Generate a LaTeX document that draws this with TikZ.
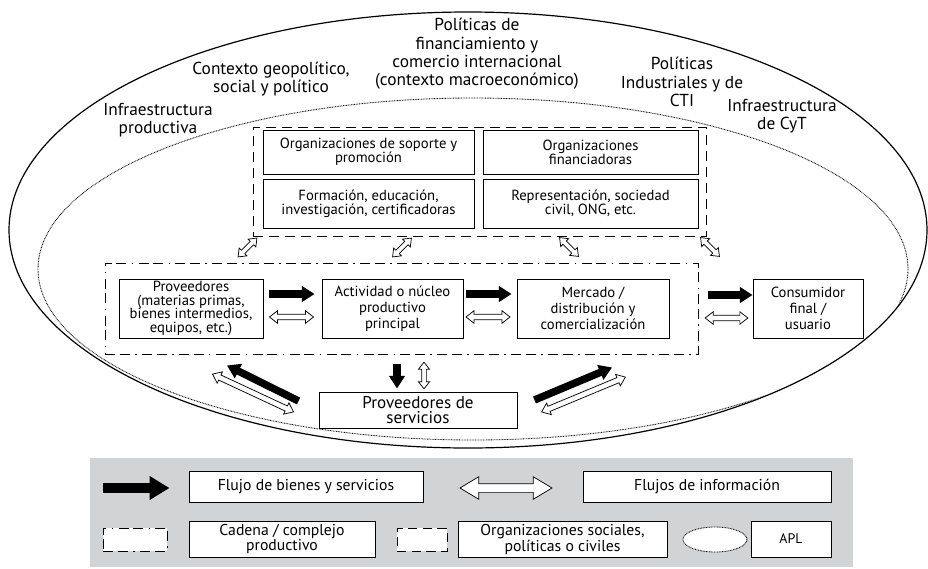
\documentclass[tikz,border=0pt]{standalone}
\usepackage{fontspec}
\setmainfont{PT Sans}
\usetikzlibrary{arrows.meta,shapes.arrows,shapes.geometric,calc}

\definecolor{legendgrey}{RGB}{209,211,212}
\newcommand\bxfont{\fontsize{11}{10.3}\selectfont}
\newcommand\chfont{\fontsize{11}{12}\selectfont}
\newcommand\lblfont{\fontsize{13}{13.8}\selectfont}
\newcommand\srvfont{\fontsize{12.8}{11.6}\selectfont}
\newcommand\lgfont{\fontsize{11.8}{10.8}\selectfont}

\begin{document}
\begin{tikzpicture}[x=0.75pt,y=-0.75pt,
  box/.style={draw, line width=0.7pt, fill=white, align=center, inner sep=1pt, font=\bxfont},
  chbox/.style={box, font=\chfont},
  lgbox/.style={box, font=\lgfont},
  lbl/.style={align=center, inner sep=0pt, font=\lblfont},
  orgframe/.style={draw, line width=0.75pt, dash pattern=on 7.5pt off 4.5pt, inner sep=0pt},
  chainframe/.style={draw, line width=0.75pt, dash pattern=on 7.5pt off 3.5pt on 7.5pt off 4pt on 1.2pt off 4pt, inner sep=0pt},
  aplline/.style={line width=0.65pt, dash pattern=on 0.6pt off 0.6pt},
  blk/.style={line width=5.6pt, -{Triangle[length=9.5pt,width=11.5pt]}},
  hollow/.style={double arrow, draw, fill=white, line width=0.55pt, inner xsep=0pt,
    inner ysep=1.8pt, double arrow head extend=2.6pt, double arrow tip angle=76,
    minimum height=#1},
  hollowsm/.style={hollow=#1, inner ysep=1.5pt, double arrow head extend=2.4pt}
]
\useasboundingbox (0,0) rectangle (928,568);

% global context and the APL boundary
\draw[line width=0.9pt] (468,230) ellipse [x radius=459, y radius=218];
\begin{scope}
  \clip (468,230) ellipse [x radius=458, y radius=217];
  \draw[aplline] (473,269) ellipse [x radius=435, y radius=171];
\end{scope}

% context labels
\node[lbl] (macro) at (477,54) {Políticas de\\financiamiento y\\comercio internacional\\(contexto macroeconómico)};
\node[lbl] (geo) at (271,79) {Contexto geopolítico,\\social y político};
\node[lbl] (ind) at (682,82) {Políticas\\Industriales y de\\CTI};
\node[lbl] (infp) at (158,120) {Infraestructura\\productiva};
\node[lbl] (infc) at (782,116) {Infraestructura\\de CyT};

% social, political and civil organisations
\node[orgframe, minimum width=339.75pt, minimum height=81.75pt] (orgs) at (479.5,181.5) {};
\node[box, minimum width=158.25pt, minimum height=33pt] (org1) at (368.5,152) {Organizaciones de soporte y\\promoción};
\node[box, minimum width=161.25pt, minimum height=33pt] (org2) at (590.5,152) {Organizaciones\\financiadoras};
\node[box, minimum width=158.25pt, minimum height=36.75pt] (org3) at (368.5,203.5) {Formación, educación,\\investigación, certificadoras};
\node[box, minimum width=161.25pt, minimum height=36.75pt] (org4) at (590.5,203.5) {Representación, sociedad\\civil, ONG, etc.};

% productive chain
\node[chainframe, minimum width=444.75pt, minimum height=68.25pt] (chain) at (401.5,308.5) {};
\node[box, minimum width=108pt, minimum height=44.25pt] (prov) at (191,308.5) {Proveedores\\(materias primas,\\bienes intermedios,\\equipos, etc.)};
\node[chbox, minimum width=105.75pt, minimum height=44.25pt] (act) at (392.5,308.5) {Actividad o núcleo\\productivo\\principal};
\node[chbox, minimum width=114pt, minimum height=44.25pt] (merc) at (593,308.5) {Mercado /\\distribución y\\comercialización};
\node[chbox, minimum width=82.5pt, minimum height=44.25pt] (cons) at (808,308.5) {Consumidor\\final /\\usuario};
\node[box, font=\srvfont, minimum width=148.5pt, minimum height=27pt] (serv) at (418,410) {Proveedores de\\servicios};

% links between organisations and the chain
\node[hollowsm=20pt, rotate=45]  (i1) at ($(orgs.south)+(-232,11)$) {};
\node[hollowsm=20pt, rotate=45]  (i2) at ($(orgs.south)+(-77.5,11)$) {};
\node[hollowsm=20pt, rotate=-45] (i3) at ($(orgs.south)+(89.5,10.5)$) {};
\node[hollowsm=20pt, rotate=-45] (i4) at ($(orgs.south)+(230.5,10.5)$) {};

% flows along the chain
\draw[blk] ($(prov.east)+(6,-14.5)$) -- ($(act.west)+(-7,-14.5)$);
\node[hollow=33pt] (f1) at ($(prov.east)!.5!(act.west)+(-1,8.5)$) {};
\draw[blk] ($(act.east)+(3,-14.5)$) -- ($(merc.west)+(-5,-14.5)$);
\node[hollow=33pt] (f2) at ($(act.east)!.5!(merc.west)+(-2,8.5)$) {};
\draw[blk] ($(chain.east)+(9,-13.5)$) -- ($(cons.west)+(0,-13.5)$);
\node[hollow=32pt] (f3) at ($(chain.east)!.5!(cons.west)+(1,9.5)$) {};

% flows with service providers
\draw[blk] ($(chain.south)+(-4.5,9)$) -- ($(serv.north)+(-21,-3)$);
\node[hollowsm=20pt, rotate=90] (f4) at ($(chain.south)!.5!(serv.north)+(14.25,2.5)$) {};
\draw[blk] ($(serv.west)+(-20,-9)$) -- ($(prov.south)+(36,27)$);
\node[hollow=67pt, rotate=-25] (f5) at ($(serv.west)+(-65.5,-17)$) {};
\draw[blk] ($(serv.east)+(17,-10)$) -- ($(merc.south)+(19,29)$);
\node[hollow=68pt, rotate=22.6] (f6) at ($(serv.east)+(66,-15.5)$) {};

% legend
\fill[legendgrey] (90,458) rectangle (853,567);
\node[lgbox, minimum width=175.5pt, minimum height=23.25pt] (lg1) at (306,486.5) {Flujo de bienes y servicios};
\node[lgbox, minimum width=186pt, minimum height=23.25pt] (lg2) at (707,486.5) {Flujos de información};
\draw[line width=8pt, -{Triangle[length=15pt,width=17pt]}] ($(lg1.west)+(-86,1.5)$) -- ($(lg1.west)+(-19,1.5)$);
\node[hollow=69pt, inner ysep=3pt, double arrow head extend=5.2pt, double arrow tip angle=62] (lgi) at ($(lg1.east)!.5!(lg2.west)+(3,1.5)$) {};

\node[chainframe, fill=white, minimum width=48pt, minimum height=17.25pt] (lgc) at (135,539.5) {};
\node[lgbox, minimum width=139.5pt, minimum height=27pt] (lg3) at (282,539) {Cadena / complejo\\productivo};
\node[orgframe, fill=white, dash pattern=on 7pt off 4pt, minimum width=37.5pt, minimum height=17.25pt] (lgo) at (422,539.5) {};
\node[lgbox, minimum width=156.75pt, minimum height=27pt] (lg4) at (562.5,539) {Organizaciones sociales,\\políticas o civiles};
\draw[aplline, fill=white] (715,539.5) ellipse [x radius=32, y radius=12.5];
\node[lgbox, font=\fontsize{10.4}{11}\selectfont, minimum width=60pt, minimum height=27pt] (lg5) at (791,539) {APL};
\end{tikzpicture}
\end{document}
